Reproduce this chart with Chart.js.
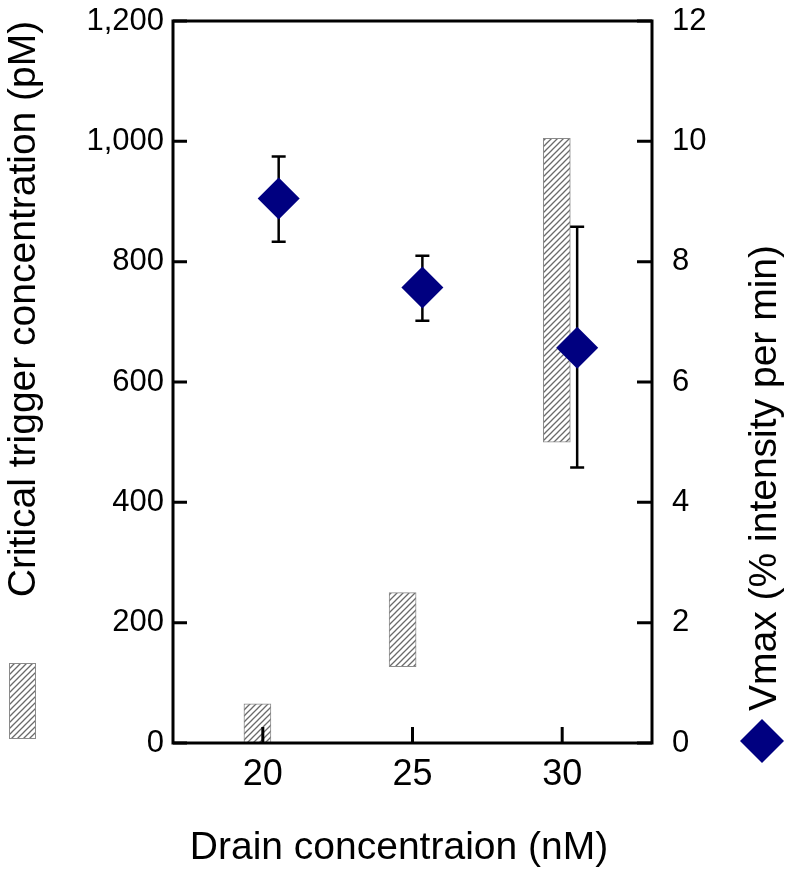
<!DOCTYPE html>
<html>
<head>
<meta charset="utf-8">
<script src="https://cdn.jsdelivr.net/npm/chart.js@4.4.0/dist/chart.umd.min.js"></script>
<style>
  html, body { margin: 0; padding: 0; background: #fff; }
  #wrap { width: 786px; height: 872px; }
</style>
</head>
<body>
<div id="wrap"><canvas id="chart" width="786" height="872"></canvas></div>
<script>
// drain concentration (nM)
const drainLevels = [20, 25, 30];

// critical trigger concentration ranges (pM), floating bars
const barX = [19.82, 24.67, 29.82];
const triggerLow = [0, 127, 500];
const triggerHigh = [65, 250, 1005];

// Vmax (% intensity per min) with error bars
const vmaxX = [20.53, 25.33, 30.5];
const vmax = [9.05, 7.57, 6.57];
const vmaxLow = [8.33, 7.02, 4.58];
const vmaxHigh = [9.75, 8.10, 8.58];

// axis ticks
const leftTicks = [0, 200, 400, 600, 800, 1000, 1200];
const leftTickLabels = ['0', '200', '400', '600', '800', '1,000', '1,200'];
const rightTicks = [0, 2, 4, 6, 8, 10, 12];

const FONT = "'Liberation Sans', Arial, Helvetica, sans-serif";
const NAVY = '#000080';

function makeHatch() {
    const c = document.createElement('canvas');
    c.width = 6;
    c.height = 6;
    const g = c.getContext('2d');
    g.fillStyle = '#fff';
    g.fillRect(0, 0, 6, 6);
    g.strokeStyle = '#6a6a6a';
    g.lineWidth = 1.3;
    g.beginPath();
    g.moveTo(0, 6); g.lineTo(6, 0);
    g.moveTo(-1, 1); g.lineTo(1, -1);
    g.moveTo(5, 7); g.lineTo(7, 5);
    g.stroke();
    return g.createPattern(c, 'repeat');
}
const hatch = makeHatch();

// error bars behind the diamonds
const errorBars = {
    id: 'errorBars',
    beforeDatasetDraw(chart, args) {
        if (args.index !== 0) return;
        const { x, y2 } = chart.scales;
        const ctx = chart.ctx;
        ctx.save();
        ctx.strokeStyle = '#000';
        ctx.lineWidth = 2.5;
        vmaxX.forEach((xv, i) => {
            const px = x.getPixelForValue(xv);
            const top = y2.getPixelForValue(vmaxHigh[i]);
            const bot = y2.getPixelForValue(vmaxLow[i]);
            ctx.beginPath();
            ctx.moveTo(px, top); ctx.lineTo(px, bot);
            ctx.moveTo(px - 7, top); ctx.lineTo(px + 7, top);
            ctx.moveTo(px - 7, bot); ctx.lineTo(px + 7, bot);
            ctx.stroke();
        });
        ctx.restore();
    }
};

// box frame, inward ticks, axis titles and the two legend keys
const frame = {
    id: 'frame',
    afterDraw(chart) {
        const { ctx, chartArea: a } = chart;
        const { x, y, y2 } = chart.scales;
        ctx.save();
        ctx.strokeStyle = '#000';
        ctx.lineWidth = 3;
        ctx.beginPath();
        leftTicks.forEach(v => {
            const py = y.getPixelForValue(v);
            ctx.moveTo(a.left, py); ctx.lineTo(a.left + 14, py);
        });
        rightTicks.forEach(v => {
            const py = y2.getPixelForValue(v);
            ctx.moveTo(a.right, py); ctx.lineTo(a.right - 15, py);
        });
        drainLevels.forEach(v => {
            const px = x.getPixelForValue(v);
            ctx.moveTo(px, a.bottom); ctx.lineTo(px, a.bottom - 16);
        });
        ctx.stroke();
        ctx.strokeRect(a.left, a.top, a.right - a.left, a.bottom - a.top);

        ctx.fillStyle = '#000';
        ctx.font = '39px ' + FONT;
        ctx.textAlign = 'center';
        ctx.textBaseline = 'middle';
        ctx.fillText('Drain concentraion (nM)', 399, 848);

        ctx.save();
        ctx.translate(24, 309);
        ctx.rotate(-Math.PI / 2);
        ctx.fillText('Critical trigger concentration (pM)', 0, 0);
        ctx.restore();

        ctx.save();
        ctx.translate(765, 478);
        ctx.rotate(-Math.PI / 2);
        ctx.fillText('Vmax (% intensity per min)', 0, 0);
        ctx.restore();

        // legend keys
        ctx.fillStyle = hatch;
        ctx.fillRect(9, 663, 27, 76);
        ctx.strokeStyle = '#8a8a8a';
        ctx.lineWidth = 1;
        ctx.strokeRect(9.5, 663.5, 26, 75);

        ctx.fillStyle = NAVY;
        ctx.beginPath();
        ctx.moveTo(762, 719); ctx.lineTo(784, 741);
        ctx.lineTo(762, 763); ctx.lineTo(740, 741);
        ctx.closePath();
        ctx.fill();
        ctx.restore();
    }
};

const tickFont = { family: FONT, size: 31, lineHeight: 1.2 };

function fixVertical(width) {
    return s => {
        s.width = width;
        s.paddingTop = 19;
        s.paddingBottom = 19;
    };
}

new Chart(document.getElementById('chart'), {
    type: 'bar',
    data: {
        datasets: [{
            type: 'scatter',
            label: 'Vmax',
            data: vmaxX.map((xv, i) => ({ x: xv, y: vmax[i] })),
            yAxisID: 'y2',
            pointStyle: 'rectRot',
            pointRadius: 21,
            pointBackgroundColor: NAVY,
            pointBorderWidth: 0,
            showLine: false
        }, {
            type: 'bar',
            label: 'Critical trigger concentration',
            data: barX.map((xv, i) => ({ x: xv, y: [triggerLow[i], triggerHigh[i]] })),
            yAxisID: 'y',
            backgroundColor: hatch,
            borderColor: '#8a8a8a',
            borderWidth: 1,
            borderSkipped: false,
            barThickness: 27
        }]
    },
    options: {
        responsive: false,
        animation: false,
        layout: { padding: 0 },
        plugins: {
            legend: { display: false },
            tooltip: { enabled: false }
        },
        scales: {
            x: {
                type: 'linear',
                offset: false,
                min: 17,
                max: 33,
                afterBuildTicks: s => { s.ticks = drainLevels.map(v => ({ value: v })); },
                afterFit: s => { s.height = 129; },
                ticks: { font: { family: FONT, size: 36 }, color: '#000', padding: 10, callback: v => String(v) },
                grid: { display: false, drawTicks: false },
                border: { display: false }
            },
            y: {
                position: 'left',
                min: 0,
                max: 1200,
                afterBuildTicks: s => { s.ticks = leftTicks.map(v => ({ value: v })); },
                afterFit: fixVertical(173),
                ticks: { font: tickFont, color: '#000', padding: 9, callback: v => leftTickLabels[leftTicks.indexOf(v)] },
                grid: { display: false, drawTicks: false },
                border: { display: false }
            },
            y2: {
                position: 'right',
                min: 0,
                max: 12,
                afterBuildTicks: s => { s.ticks = rightTicks.map(v => ({ value: v })); },
                afterFit: fixVertical(134),
                ticks: { font: tickFont, color: '#000', padding: 20, callback: v => String(v) },
                grid: { display: false, drawTicks: false },
                border: { display: false }
            }
        }
    },
    plugins: [errorBars, frame]
});
</script>
</body>
</html>
